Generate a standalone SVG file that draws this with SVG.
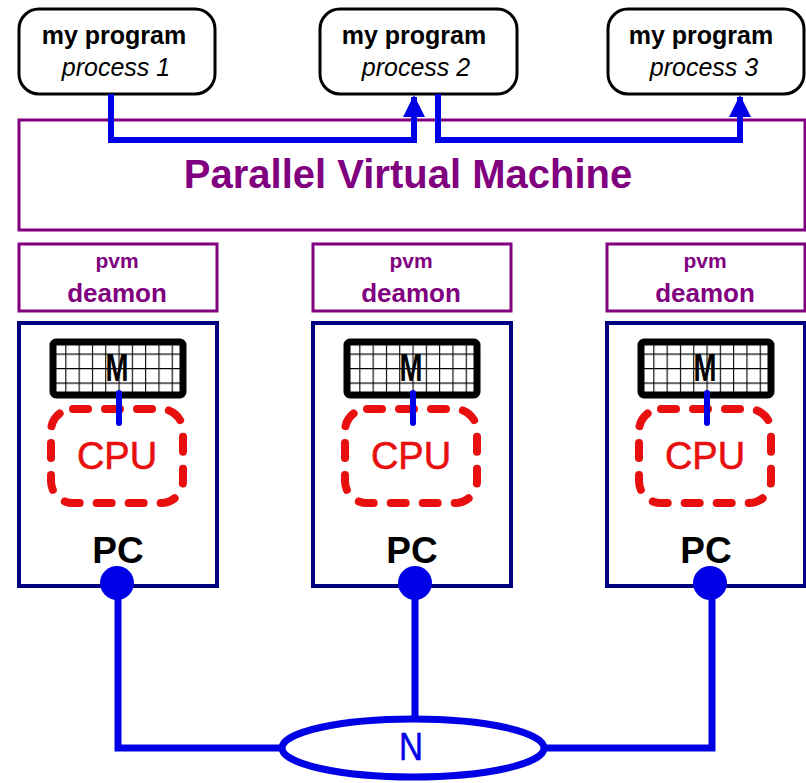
<svg xmlns="http://www.w3.org/2000/svg" width="806" height="783" viewBox="0 0 806 783">
  <style>
    .proc { fill: #fff; stroke: #000; stroke-width: 3; }
    .ptxt { font-family: "Liberation Sans", Arial, sans-serif; font-size: 25px; fill: #000; text-anchor: middle; }
    .pvm { fill: #fff; stroke: #800080; stroke-width: 3; }
    .pvmtxt { font-family: "Liberation Sans", Arial, sans-serif; font-weight: bold; fill: #800080; text-anchor: middle; }
    .pc { fill: #fff; stroke: #000080; stroke-width: 4; }
    .mem { fill: url(#grid); stroke: #000; stroke-width: 7; }
    .cpu { fill: none; stroke: #e8100f; stroke-width: 8; stroke-dasharray: 15 17; stroke-linecap: round; }
    .cputxt { font-family: "Liberation Sans", Arial, sans-serif; font-size: 38px; fill: #e8100f; stroke: #e8100f; stroke-width: 0.6; text-anchor: middle; }
    .bk { font-family: "Liberation Sans", Arial, sans-serif; font-weight: bold; fill: #000; text-anchor: middle; }
    .link { fill: none; stroke: #0000e6; stroke-width: 6; }
    .net { fill: none; stroke: #0000e6; stroke-width: 7; }
    .dot { fill: #0000e6; }
  </style>
  <defs>
    <pattern id="grid" patternUnits="userSpaceOnUse" x="52" y="339" width="13.3" height="14.5">
      <rect width="13.3" height="14.5" fill="#fff"/>
      <path d="M0,0 H13.3 M0,0 V14.5" stroke="#000" stroke-width="2.2" fill="none"/>
    </pattern>
    <!-- arrowhead pointing along the path direction -->
    <marker id="arrow" markerUnits="userSpaceOnUse" markerWidth="22" markerHeight="22" viewBox="0 0 22 22" refX="20" refY="11" orient="auto">
      <path d="M0,0 L22,11 L0,22 Z" fill="#0000e6"/>
    </marker>
  </defs>

  <!-- program processes -->
  <g id="process1">
    <rect class="proc" x="19" y="9" width="196" height="85" rx="20"/>
    <text class="ptxt" x="114" y="44" font-weight="bold">my program</text>
    <text class="ptxt" x="116" y="76" font-style="italic">process 1</text>
  </g>
  <g id="process2">
    <rect class="proc" x="320" y="9" width="197" height="85" rx="20"/>
    <text class="ptxt" x="414" y="44" font-weight="bold">my program</text>
    <text class="ptxt" x="416" y="76" font-style="italic">process 2</text>
  </g>
  <g id="process3">
    <rect class="proc" x="608" y="9" width="196" height="85" rx="20"/>
    <text class="ptxt" x="701" y="44" font-weight="bold">my program</text>
    <text class="ptxt" x="704" y="76" font-style="italic">process 3</text>
  </g>

  <!-- virtual machine layer -->
  <g id="pvm">
    <rect class="pvm" x="19" y="120" width="786" height="110"/>
    <text class="pvmtxt" x="408" y="188" font-size="40">Parallel Virtual Machine</text>
  </g>

  <!-- host machines -->
  <g id="host1">
    <g id="daemon1">
      <rect class="pvm" x="19" y="244" width="198" height="67" stroke-width="2.5"/>
      <text class="pvmtxt" x="117" y="268" font-size="21">pvm</text>
      <text class="pvmtxt" x="117" y="302" font-size="26">deamon</text>
    </g>
    <g id="pc1">
      <rect class="pc" x="19" y="323" width="198" height="263"/>
      <rect class="mem" x="53" y="342" width="130" height="53" rx="3"/>
      <text class="bk" x="117" y="381" font-size="39" textLength="23" lengthAdjust="spacingAndGlyphs">M</text>
      <rect class="cpu" x="51" y="409" width="132" height="94" rx="22"/>
      <text class="cputxt" x="117" y="469">CPU</text>
      <text class="bk" x="118" y="563" font-size="37">PC</text>
    </g>
  </g>
  <g id="host2" transform="translate(294,0)">
    <g id="daemon2">
      <rect class="pvm" x="19" y="244" width="198" height="67" stroke-width="2.5"/>
      <text class="pvmtxt" x="117" y="268" font-size="21">pvm</text>
      <text class="pvmtxt" x="117" y="302" font-size="26">deamon</text>
    </g>
    <g id="pc2">
      <rect class="pc" x="19" y="323" width="198" height="263"/>
      <rect class="mem" x="53" y="342" width="130" height="53" rx="3"/>
      <text class="bk" x="117" y="381" font-size="39" textLength="23" lengthAdjust="spacingAndGlyphs">M</text>
      <rect class="cpu" x="51" y="409" width="132" height="94" rx="22"/>
      <text class="cputxt" x="117" y="469">CPU</text>
      <text class="bk" x="118" y="563" font-size="37">PC</text>
    </g>
  </g>
  <g id="host3" transform="translate(588,0)">
    <g id="daemon3">
      <rect class="pvm" x="19" y="244" width="198" height="67" stroke-width="2.5"/>
      <text class="pvmtxt" x="117" y="268" font-size="21">pvm</text>
      <text class="pvmtxt" x="117" y="302" font-size="26">deamon</text>
    </g>
    <g id="pc3">
      <rect class="pc" x="19" y="323" width="198" height="263"/>
      <rect class="mem" x="53" y="342" width="130" height="53" rx="3"/>
      <text class="bk" x="117" y="381" font-size="39" textLength="23" lengthAdjust="spacingAndGlyphs">M</text>
      <rect class="cpu" x="51" y="409" width="132" height="94" rx="22"/>
      <text class="cputxt" x="117" y="469">CPU</text>
      <text class="bk" x="118" y="563" font-size="37">PC</text>
    </g>
  </g>

  <!-- network -->
  <g id="network">
    <ellipse class="net" cx="413" cy="748" rx="131" ry="29" stroke-width="6"/>
    <text x="411" y="760" font-family="Liberation Sans, Arial, sans-serif" font-size="38" fill="#0000e6" stroke="#0000e6" stroke-width="0.5" text-anchor="middle" textLength="24" lengthAdjust="spacingAndGlyphs">N</text>
  </g>

  <!-- connectors -->
  <g id="connectors">
    <path class="link" d="M111,94 V140 H414 V97" marker-end="url(#arrow)"/>
    <path class="link" d="M438,94 V140 H740 V97" marker-end="url(#arrow)"/>
    <path class="link" d="M119,393 V423" stroke-width="8" stroke-linecap="round"/>
    <path class="link" d="M413,393 V423" stroke-width="8" stroke-linecap="round"/>
    <path class="link" d="M707,393 V423" stroke-width="8" stroke-linecap="round"/>
    <path class="net" d="M118,583 V748 H282"/>
    <path class="net" d="M415,583 V719"/>
    <path class="net" d="M544,748 H712 V583"/>
    <circle class="dot" cx="117" cy="583" r="17"/>
    <circle class="dot" cx="415" cy="583" r="17"/>
    <circle class="dot" cx="710" cy="583" r="17"/>
  </g>
</svg>
